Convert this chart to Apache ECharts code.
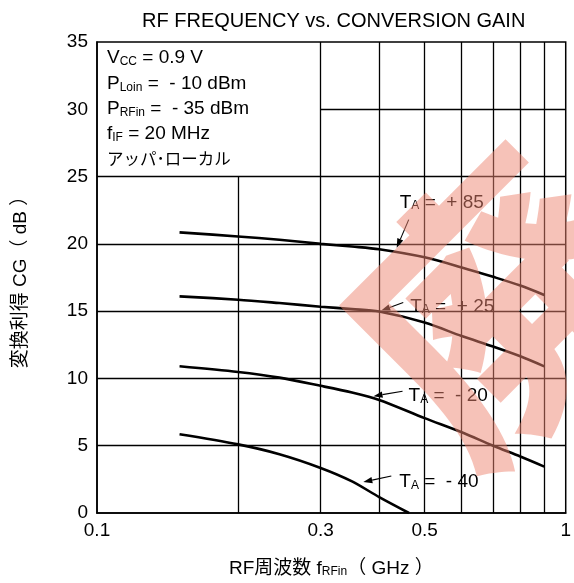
<!DOCTYPE html>
<html><head><meta charset="utf-8">
<script src="https://cdn.jsdelivr.net/npm/echarts@6/dist/echarts.min.js"></script>
<style>html,body{margin:0;padding:0;background:#fff}#c{width:574px;height:583px}</style>
</head><body><div id="c"></div>
<script>
// ---- data ----
const freqs = [0.15, 0.2, 0.245, 0.3, 0.35, 0.4, 0.5, 0.6, 0.7, 0.8, 0.9];
const gainTa85 = [20.85, 20.55, 20.3, 20.0, 19.8, 19.6, 19.0, 18.25, 17.55, 16.9, 16.2];
const gainTa25 = [16.1, 15.85, 15.6, 15.33, 15.15, 14.97, 14.15, 13.15, 12.37, 11.65, 10.9];
const gainTaM20 = [10.9, 10.48, 10.06, 9.45, 8.95, 8.4, 7.05, 6.0, 5.0, 4.2, 3.45];
const freqsM40 = [0.15, 0.2, 0.245, 0.3, 0.35, 0.4, 0.463];
const gainTaM40 = [5.85, 5.1, 4.37, 3.35, 2.35, 1.18, 0];
const xTickLabels = [0.1, 0.3, 0.5, 1];
const xGridValues = [0.2, 0.3, 0.4, 0.5, 0.6, 0.7, 0.8, 0.9];
const yGridValues = [5, 10, 15, 20, 25, 30];
const curveNames = ['TA = +85', 'TA = +25', 'TA = -20', 'TA = -40'];
const curveLabels = ['T{s|A} =  + 85', 'T{s|A} =  + 25', 'T{s|A} =  - 20', 'T{s|A} =  - 40'];
const conditionLines = ['V{s|CC} = 0.9 V', 'P{s|Loin} =  - 10 dBm', 'P{s|RFin} =  - 35 dBm', 'f{s|IF} = 20 MHz', '{j|アッパ･ローカル}'];
const watermarkText = '廃';

// ---- build ----
const FONT = "'Liberation Sans', 'Noto Sans CJK JP', sans-serif";
const chart = echarts.init(document.getElementById('c'), null, {renderer: 'canvas'});
const zip = (xs, ys) => xs.map((x, i) => [x, ys[i]]);

const gridLines = [];
xGridValues.forEach(v => {
  gridLines.push([{coord: [v, 0]}, {coord: [v, v < 0.25 ? 25 : 35]}]);
});
yGridValues.forEach(v => {
  gridLines.push([{coord: [v >= 30 ? 0.3 : 0.1, v]}, {coord: [1, v]}]);
});

const curveStyle = {color: '#000', width: 2.6};
const series = [
  {type: 'line', name: 'grid', data: [], silent: true, z: 1,
   markLine: {silent: true, symbol: 'none', animation: false,
     lineStyle: {color: '#000', width: 1.3, type: 'solid'}, label: {show: false},
     emphasis: {disabled: true}, data: gridLines}},
  {type: 'line', name: curveNames[0], data: zip(freqs, gainTa85)},
  {type: 'line', name: curveNames[1], data: zip(freqs, gainTa25)},
  {type: 'line', name: curveNames[2], data: zip(freqs, gainTaM20)},
  {type: 'line', name: curveNames[3], data: zip(freqsM40, gainTaM40)}
];
series.slice(1).forEach(s => Object.assign(s, {smooth: 0.3, showSymbol: false, lineStyle: curveStyle, z: 3, animation: false}));

const sub = {fontSize: 12, lineHeight: 14, verticalAlign: 'bottom', fontFamily: FONT, color: '#000'};
chart.setOption({
  animation: false,
  backgroundColor: '#fff',
  title: {text: 'RF FREQUENCY vs. CONVERSION GAIN', left: 137, top: 6,
    textStyle: {fontFamily: FONT, fontSize: 20, fontWeight: 'normal', color: '#000'}},
  grid: {left: 97, right: 5, top: 42, bottom: 69, show: true, borderColor: '#000', borderWidth: 1.5, backgroundColor: '#fff'},
  xAxis: {type: 'log', logBase: 10, min: 0.1, max: 1,
    axisLine: {show: true, lineStyle: {color: '#000', width: 1.5}},
    axisTick: {show: false}, splitLine: {show: false}, minorTick: {show: false},
    axisLabel: {customValues: xTickLabels, color: '#000', fontFamily: FONT, fontSize: 19, margin: 8,
      formatter: v => String(+v.toPrecision(3))},
    name: 'RF周波数 f{s|RFin}（ GHz ）', nameLocation: 'middle', nameGap: 46,
    nameTextStyle: {fontFamily: FONT, fontSize: 19, color: '#000', rich: {s: sub}}},
  yAxis: {type: 'value', min: 0, max: 35, interval: 5,
    axisLine: {show: true, lineStyle: {color: '#000', width: 1.5}},
    axisTick: {show: false}, splitLine: {show: false},
    axisLabel: {color: '#000', fontFamily: FONT, fontSize: 19, margin: 9},
    name: '変換利得 CG（ dB ）', nameLocation: 'middle', nameGap: 67, nameRotate: 90,
    nameTextStyle: {fontFamily: FONT, fontSize: 19, color: '#000'}},
  series: series
});

// ---- annotations ----
const annos = [
  {tip: [0.436, 19.72], tail: [12, -28], text: [3, -45]},
  {tip: [0.404, 15.05], tail: [22, -8], text: [29, -4]},
  {tip: [0.389, 8.68], tail: [29, -5], text: [35, 0]},
  {tip: [0.37, 2.3], tail: [28, -6], text: [36, 0]}
];
const graphics = [];
annos.forEach((a, i) => {
  const p = chart.convertToPixel({xAxisIndex: 0, yAxisIndex: 0}, a.tip);
  const tx = p[0] + a.tail[0], ty = p[1] + a.tail[1];
  const ang = Math.atan2(p[1] - ty, p[0] - tx);
  const L = 9, W = 3.2;
  const bx = p[0] - L * Math.cos(ang), by = p[1] - L * Math.sin(ang);
  const nx = -Math.sin(ang) * W, ny = Math.cos(ang) * W;
  graphics.push({type: 'line', z: 10, shape: {x1: tx, y1: ty, x2: bx, y2: by}, style: {stroke: '#000', lineWidth: 1.1}});
  graphics.push({type: 'polygon', z: 10, shape: {points: [[p[0], p[1]], [bx + nx, by + ny], [bx - nx, by - ny]]}, style: {fill: '#000'}});
  graphics.push({type: 'text', z: 10, x: p[0] + a.text[0], y: p[1] + a.text[1],
    style: {text: curveLabels[i], fill: '#000', fontSize: 19, fontFamily: FONT,
      verticalAlign: 'middle', align: 'left',
      rich: {s: {fontSize: 12, lineHeight: 14, verticalAlign: 'bottom', fontFamily: FONT}}}});
});
// condition box text
const lineY = [58, 84, 109, 134, 159];
conditionLines.forEach((t, i) => {
  graphics.push({type: 'text', z: 10, x: 107, y: lineY[i],
    style: {text: t, fill: '#000', fontSize: 19, fontFamily: FONT, verticalAlign: 'middle', align: 'left',
      rich: {s: {fontSize: 12, lineHeight: 14, verticalAlign: 'bottom', fontFamily: FONT},
             j: {fontSize: 16.5, fontFamily: "'Noto Sans CJK JP', sans-serif"}}}});
});
// watermark
graphics.push({type: 'text', z: 100, x: 497, y: 306, rotation: Math.PI / 4,
  style: {text: watermarkText, fill: 'rgba(237,134,113,0.5)', fontSize: 275, fontWeight: 900,
    fontFamily: "'Noto Sans CJK JP', sans-serif", align: 'center', verticalAlign: 'middle'}});
chart.setOption({graphic: graphics});
</script></body></html>
